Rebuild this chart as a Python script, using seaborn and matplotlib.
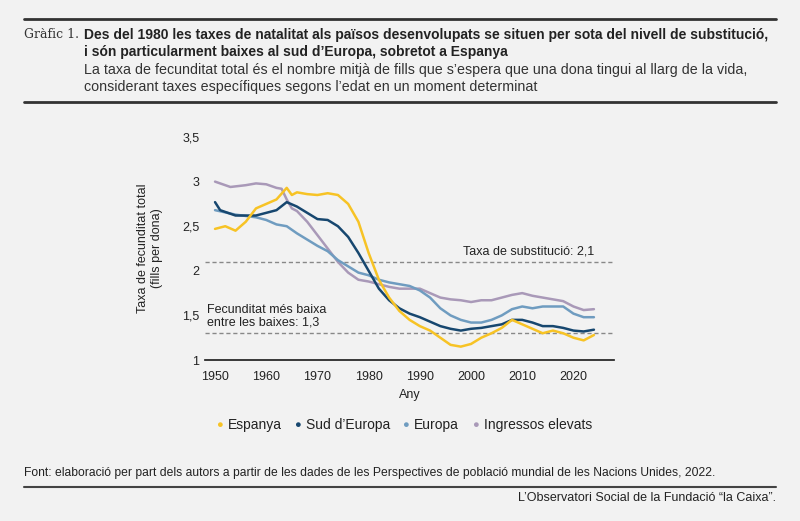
import matplotlib
matplotlib.use("Agg")
import matplotlib.pyplot as plt
import pandas as pd
import seaborn as sns

years_es = [1950, 1952, 1954, 1956, 1958, 1960, 1962, 1964, 1965, 1966, 1968, 1970, 1972, 1974, 1976, 1978, 1980,
            1982, 1984, 1986, 1988, 1990, 1992, 1994, 1996, 1998, 2000, 2002, 2004, 2006, 2008, 2010, 2012,
            2014, 2016, 2018, 2020, 2022, 2024]
espanya = [2.47, 2.5, 2.45, 2.55, 2.7, 2.75, 2.8, 2.93, 2.85, 2.88, 2.86, 2.85, 2.87, 2.85, 2.75, 2.55, 2.2,
           1.9, 1.7, 1.55, 1.45, 1.38, 1.33, 1.25, 1.17, 1.15, 1.18, 1.25, 1.3, 1.36, 1.45, 1.4, 1.35,
           1.3, 1.33, 1.3, 1.25, 1.22, 1.28]

years_sud = [1950, 1951, 1954, 1958, 1962, 1964, 1966, 1968, 1970, 1972, 1974, 1976, 1978, 1980, 1982, 1984,
             1986, 1988, 1990, 1992, 1994, 1996, 1998, 2000, 2002, 2004, 2006, 2008, 2010, 2012, 2014, 2016,
             2018, 2020, 2022, 2024]
sud = [2.77, 2.68, 2.62, 2.62, 2.68, 2.77, 2.72, 2.65, 2.58, 2.57, 2.5, 2.38, 2.2, 2.0, 1.8, 1.67,
       1.58, 1.52, 1.48, 1.43, 1.38, 1.35, 1.33, 1.35, 1.36, 1.38, 1.4, 1.45, 1.45, 1.42, 1.38, 1.38,
       1.36, 1.33, 1.32, 1.34]

years_eu = [1950, 1954, 1958, 1960, 1962, 1964, 1966, 1968, 1970, 1972, 1974, 1976, 1978, 1980, 1982, 1984,
            1986, 1988, 1990, 1992, 1994, 1996, 1998, 2000, 2002, 2004, 2006, 2008, 2010, 2012, 2014, 2016,
            2018, 2020, 2022, 2024]
europa = [2.68, 2.63, 2.6, 2.57, 2.52, 2.5, 2.42, 2.35, 2.28, 2.22, 2.12, 2.05, 1.98, 1.95, 1.9, 1.87,
          1.85, 1.83, 1.78, 1.7, 1.58, 1.5, 1.45, 1.42, 1.42, 1.45, 1.5, 1.57, 1.6, 1.58, 1.6, 1.6,
          1.6, 1.52, 1.48, 1.48]

years_ing = [1950, 1953, 1956, 1958, 1960, 1962, 1963, 1964, 1965, 1966, 1968, 1970, 1972, 1974, 1976, 1978,
             1980, 1982, 1984, 1986, 1988, 1990, 1992, 1994, 1996, 1998, 2000, 2002, 2004, 2006, 2008, 2010,
             2012, 2014, 2016, 2018, 2020, 2022, 2024]
ingressos = [3.0, 2.94, 2.96, 2.98, 2.97, 2.93, 2.92, 2.8, 2.7, 2.67, 2.55, 2.4, 2.25, 2.1, 1.98, 1.9,
             1.88, 1.85, 1.82, 1.8, 1.8, 1.8, 1.75, 1.7, 1.68, 1.67, 1.65, 1.67, 1.67, 1.7, 1.73, 1.75,
             1.72, 1.7, 1.68, 1.66, 1.6, 1.56, 1.57]

series = ["Espanya", "Sud d’Europa", "Europa", "Ingressos elevats"]
colors = ["#f7c325", "#17476f", "#6f9cc0", "#a999b8"]

df = pd.concat([
    pd.DataFrame({"Any": y, "TFT": v, "Serie": s})
    for y, v, s in zip([years_es, years_sud, years_eu, years_ing], [espanya, sud, europa, ingressos], series)
])

bg = "#f2f2f2"
sns.set_theme(style="white")
plt.rcParams["font.family"] = ["Liberation Sans", "DejaVu Sans"]

fig = plt.figure(figsize=(8, 5.21), dpi=100, facecolor=bg)
ax = fig.add_axes([0.256, 0.309, 0.512, 0.428], facecolor=bg)

# draw in reverse so Espanya is on top
sns.lineplot(data=df, x="Any", y="TFT", hue="Serie", hue_order=series[::-1],
             palette=colors[::-1], linewidth=1.8, ax=ax, legend=False)

for val in (2.1, 1.3):
    ax.axhline(val, color="#888888", lw=1, ls=(0, (3, 2)), zorder=0)
ax.text(2024, 2.15, "Taxa de substitució: 2,1", ha="right", va="bottom", fontsize=9, color="#222")
ax.text(1948.5, 1.35, "Fecunditat més baixa\nentre les baixes: 1,3", ha="left", va="bottom",
        fontsize=9, color="#222", linespacing=1.1)

ax.set_xlim(1948, 2028)
ax.set_ylim(1, 3.5)
ax.set_xticks(range(1950, 2021, 10))
ax.set_yticks([1, 1.5, 2, 2.5, 3, 3.5])
ax.set_yticklabels(["1", "1,5", "2", "2,5", "3", "3,5"])
ax.tick_params(labelsize=9, colors="#222", length=0, pad=4)
ax.tick_params(axis="x", length=4, color="#222", direction="out")
for sp in ["top", "right", "left"]:
    ax.spines[sp].set_visible(False)
ax.spines["bottom"].set_color("#222")
ax.set_xlabel("Any", fontsize=9, color="#222")
ax.set_ylabel("Taxa de fecunditat total\n(fills per dona)", fontsize=9, color="#222", labelpad=14)

# legend
lx = 0.27
for s, c, w in zip(series, colors, [0.097, 0.135, 0.088, 0.15]):
    fig.text(lx, 0.185, "●", color=c, fontsize=8, va="center")
    fig.text(lx + 0.015, 0.185, s, color="#222", fontsize=10, va="center")
    lx += w

# header
fig.add_artist(plt.Line2D([0.03, 0.97], [0.963, 0.963], color="#333", lw=2))
fig.text(0.03, 0.933, "Gràfic 1.", fontsize=9, family="DejaVu Serif", color="#333", va="center")
fig.text(0.105, 0.933, "Des del 1980 les taxes de natalitat als països desenvolupats se situen per sota del nivell de substitució,",
         fontsize=10, weight="bold", color="#222", va="center")
fig.text(0.105, 0.9, "i són particularment baixes al sud d’Europa, sobretot a Espanya",
         fontsize=10, weight="bold", color="#222", va="center")
fig.text(0.105, 0.866, "La taxa de fecunditat total és el nombre mitjà de fills que s’espera que una dona tingui al llarg de la vida,",
         fontsize=10.3, color="#333", va="center")
fig.text(0.105, 0.833, "considerant taxes específiques segons l’edat en un moment determinat",
         fontsize=10.3, color="#333", va="center")
fig.add_artist(plt.Line2D([0.03, 0.97], [0.804, 0.804], color="#333", lw=2))
fig.text(0.03, 0.093, "Font: elaboració per part dels autors a partir de les dades de les Perspectives de població mundial de les Nacions Unides, 2022.",
         fontsize=8.7, color="#222", va="center")
fig.add_artist(plt.Line2D([0.03, 0.97], [0.066, 0.066], color="#444", lw=1.5))
fig.text(0.97, 0.044, "L’Observatori Social de la Fundació “la Caixa”.", fontsize=9, color="#222",
         ha="right", va="center")

fig.savefig("out.png", dpi=100, facecolor=bg)
